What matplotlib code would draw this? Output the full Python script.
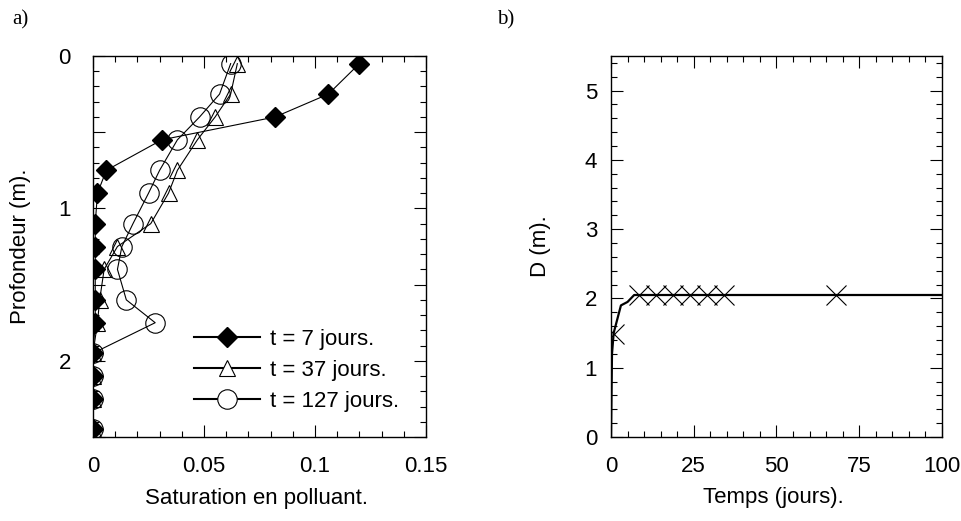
import matplotlib
matplotlib.use('Agg')
import matplotlib.pyplot as plt
from matplotlib.lines import Line2D
from matplotlib.ticker import MultipleLocator, FuncFormatter

plt.rcParams['font.family'] = ['Liberation Sans', 'DejaVu Sans']

# profondeur (m) des points de mesure
depth = [0.05, 0.25, 0.40, 0.55, 0.75, 0.90, 1.10, 1.25, 1.40, 1.60, 1.75, 1.95, 2.10, 2.25, 2.45]

# saturation en polluant pour chaque date
sat_7 = [0.120, 0.106, 0.082, 0.031, 0.006, 0.002, 0.001, 0.001, 0.001, 0.001, 0.001, 0.0, 0.0, 0.0, 0.0]
sat_37 = [0.065, 0.062, 0.055, 0.047, 0.038, 0.034, 0.026, 0.011, 0.005, 0.003, 0.002, 0.0, 0.0, 0.0, 0.0]
sat_127 = [0.062, 0.057, 0.048, 0.038, 0.030, 0.025, 0.018, 0.013, 0.011, 0.015, 0.028, 0.0, 0.0, 0.0, 0.0]

# front de pollution D en fonction du temps
t_pts = [0.8, 8.4, 13.6, 18.7, 24.0, 29.0, 34.0, 68.0]
d_pts = [1.49, 2.05, 2.05, 2.05, 2.05, 2.05, 2.05, 2.05]
t_line = [0.0, 0.3, 0.8, 3.0, 5.0, 7.0, 100.0]
d_line = [0.0, 1.2, 1.5, 1.9, 1.95, 2.05, 2.05]

FS = 16

fig = plt.figure(figsize=(9.61, 5.21), dpi=100)
ax1 = fig.add_axes([0.0968, 0.1612, 0.3465, 0.7313])
ax2 = fig.add_axes([0.6358, 0.1612, 0.3444, 0.7313])

for ax in (ax1, ax2):
    ax.tick_params(which='both', direction='in', top=True, right=True, width=0.8)
    ax.tick_params(which='major', length=8.5, labelsize=FS)
    ax.tick_params(which='minor', length=4.3)
    for sp in ax.spines.values():
        sp.set_linewidth(1.0)

# a) profils de saturation
ax1.plot(sat_7, depth, color='black', lw=0.8, marker='D', ms=10, mfc='black', mec='black')
ax1.plot(sat_37, depth, color='black', lw=0.8, marker='^', ms=12, mfc='none', mec='black', mew=0.8)
ax1.plot(sat_127, depth, color='black', lw=0.8, marker='o', ms=14, mfc='none', mec='black', mew=0.8)
ax1.set_xlim(0, 0.15)
ax1.set_ylim(2.5, 0)
ax1.xaxis.set_major_locator(MultipleLocator(0.05))
ax1.xaxis.set_minor_locator(MultipleLocator(0.01))
ax1.xaxis.set_major_formatter(FuncFormatter(lambda v, p: '0' if abs(v) < 1e-9 else f'{v:g}'))
ax1.yaxis.set_major_locator(MultipleLocator(0.5))
ax1.yaxis.set_minor_locator(MultipleLocator(0.1))
ax1.yaxis.set_major_formatter(FuncFormatter(lambda v, p: f'{int(round(v))}' if abs(v - round(v)) < 1e-6 else ''))
ax1.tick_params(axis='y', which='major', pad=16)
ax1.tick_params(axis='x', which='major', pad=14)
ax1.set_xlabel('Saturation en polluant.', fontsize=FS)
ax1.set_ylabel('Profondeur (m).', fontsize=FS)
ax1.xaxis.set_label_coords(0.49, -0.135)
ax1.yaxis.set_label_coords(-0.185, 0.5)

handles = [
    Line2D([], [], color='black', lw=1.5, marker='D', ms=10, mfc='black', mec='black'),
    Line2D([], [], color='black', lw=1.5, marker='^', ms=12, mfc='white', mec='black', mew=0.8),
    Line2D([], [], color='black', lw=1.5, marker='o', ms=14, mfc='white', mec='black', mew=0.8),
]
ax1.legend(handles, ['t = 7 jours.', 't = 37 jours.', 't = 127 jours.'],
           loc='lower right', bbox_to_anchor=(0.92, 0.065), frameon=False,
           fontsize=FS, handlelength=3.0, handletextpad=0.45, labelspacing=0.45,
           borderpad=0, borderaxespad=0)

# b) evolution de D
ax2.plot(t_line, d_line, color='black', lw=1.6)
ax2.plot(t_pts, d_pts, ls='none', marker='x', ms=14, mec='black', mew=0.8)
ax2.set_xlim(0, 100)
ax2.set_ylim(0, 5.5)
ax2.xaxis.set_major_locator(MultipleLocator(25))
ax2.xaxis.set_minor_locator(MultipleLocator(5))
ax2.yaxis.set_major_locator(MultipleLocator(1))
ax2.yaxis.set_minor_locator(MultipleLocator(0.2))
ax2.tick_params(axis='y', which='major', pad=10)
ax2.tick_params(axis='x', which='major', pad=14)
ax2.set_xlabel('Temps (jours).', fontsize=FS)
ax2.set_ylabel('D (m).', fontsize=FS)
ax2.xaxis.set_label_coords(0.49, -0.13)
ax2.yaxis.set_label_coords(-0.18, 0.5)

fig.text(12 / 961, 1 - 10 / 521, 'a)', fontsize=15, family='Liberation Serif', va='top', ha='left')
fig.text(497 / 961, 1 - 10 / 521, 'b)', fontsize=15, family='Liberation Serif', va='top', ha='left')

fig.savefig('out.png', dpi=100)
